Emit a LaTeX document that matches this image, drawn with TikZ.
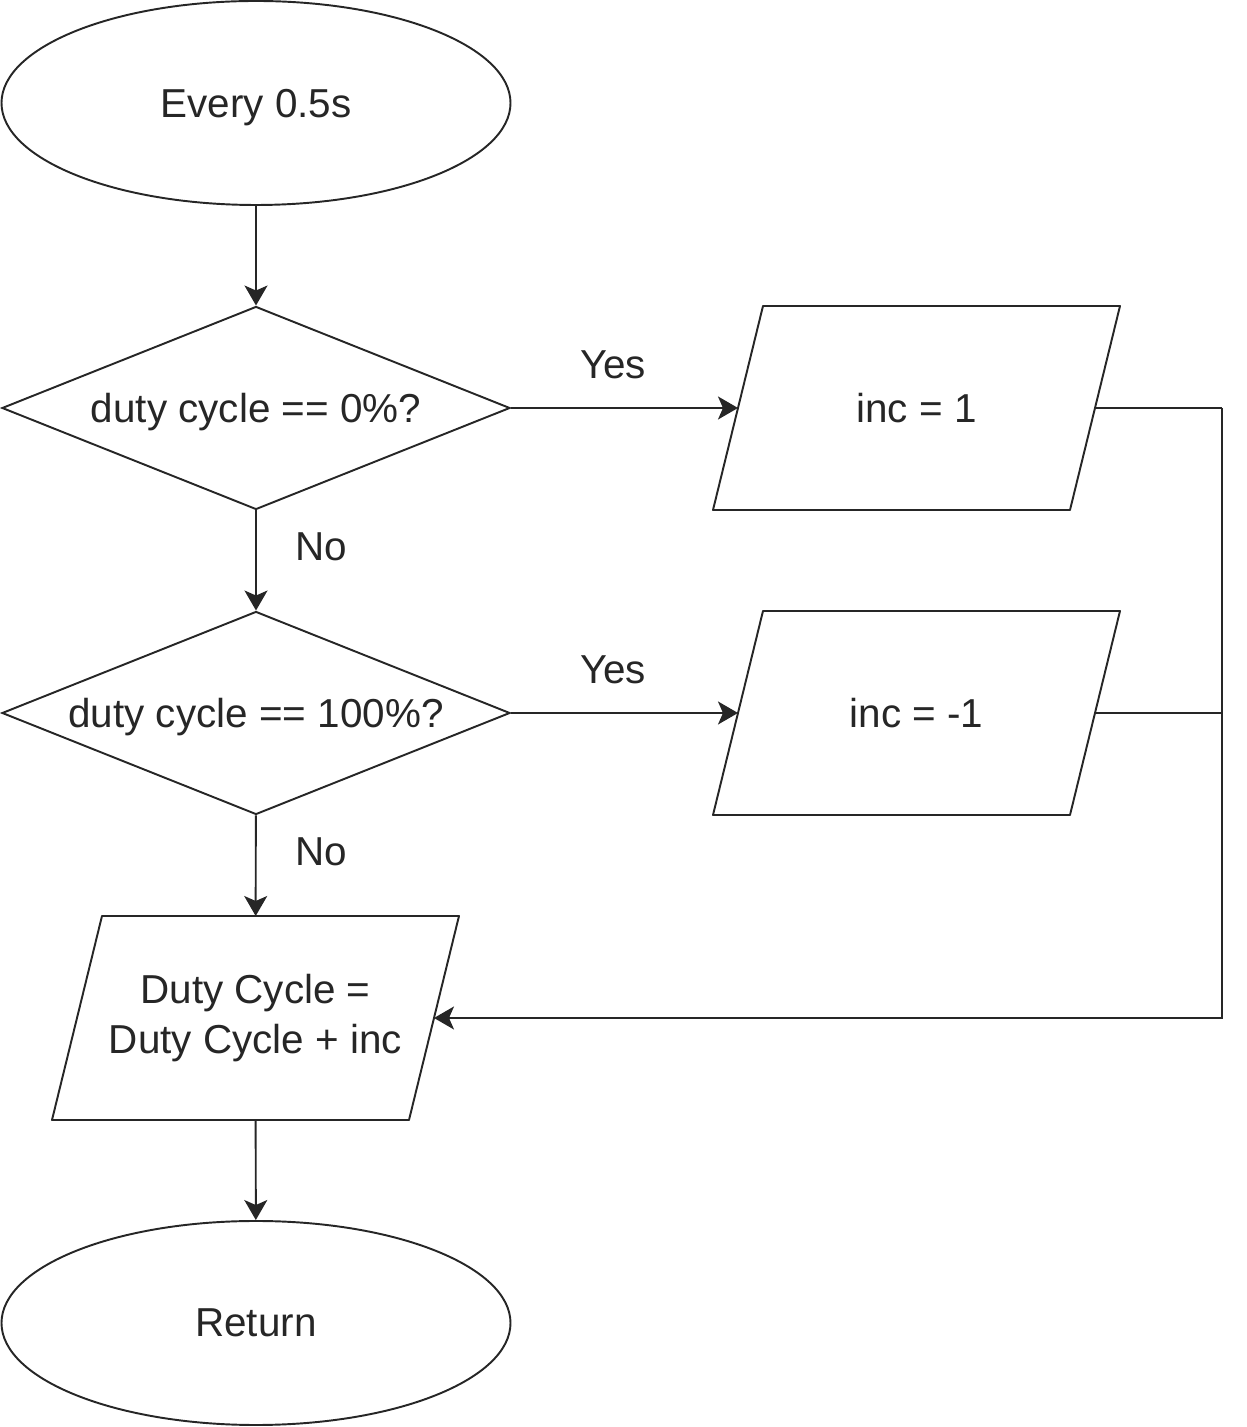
\documentclass[tikz,border=0pt]{standalone}
\usepackage{fontspec}
\setmainfont{Liberation Sans}
\usetikzlibrary{shapes.geometric,positioning,arrows.meta}
\tikzset{
  flowline/.style={line width=1.1pt, draw=black!85},
  flowarrow/.style={flowline, -{Stealth[length=0.4cm, width=0.46cm, inset=0.1cm]}},
  terminal/.style={ellipse, flowline, minimum width=10.18cm, minimum height=4.08cm, inner sep=0pt, text depth=0pt},
  decision/.style={diamond, flowline, minimum width=10.16cm, minimum height=4.06cm, aspect=2.5, inner sep=0pt, text depth=0pt},
  iobox/.style={rectangle, minimum width=7.14cm, minimum height=4.08cm, inner sep=0pt, outer sep=0pt, align=center,
    append after command={\pgfextra{\draw[flowline, line join=round]
      ([xshift=0.5cm]\tikzlastnode.north west) -- ([xshift=0.5cm]\tikzlastnode.north east)
      -- ([xshift=-0.5cm]\tikzlastnode.south east) -- ([xshift=-0.5cm]\tikzlastnode.south west) -- cycle;}}},
  edgelabel/.style={inner sep=2pt}
}

\begin{document}
\begin{tikzpicture}[font=\fontsize{23}{28.5}\selectfont, text=black!85]
\useasboundingbox (0,0) rectangle (24.94,28.54);
\node[terminal] (start) at (5.12,26.48) {Every 0.5s};
\node[decision] (zero) at (5.12,20.38) {duty cycle == 0\%?};
\node[decision] (full) at (5.12,14.28) {duty cycle == 100\%?};
\node[iobox] (update) at (5.11,8.18) {Duty Cycle =\\Duty Cycle + inc};
\node[terminal] (ret) at (5.12,2.08) {Return};
\node[iobox, text depth=0pt] (incup) at (18.33,20.38) {inc = 1};
\node[iobox, text depth=0pt] (incdown) at (18.33,14.28) {inc = -1};
\coordinate (railtop) at (24.44,20.38);
\coordinate (railmid) at (24.44,14.28);
\coordinate (railend) at (24.44,8.18);
\draw[flowarrow] (start) -- (zero);
\draw[flowarrow] (zero.east) -- node[edgelabel, above=0.5cm, pos=0.45] {Yes} (incup.west);
\draw[flowarrow] (zero) -- node[edgelabel, right=0.7cm, pos=0.36] {No} (full);
\draw[flowarrow] (full.east) -- node[edgelabel, above=0.5cm, pos=0.45] {Yes} (incdown.west);
\draw[flowarrow] (full) -- node[edgelabel, right=0.7cm, pos=0.36] {No} (update);
\draw[flowline] (incup.east) -- (railtop);
\draw[flowline] (incdown.east) -- (railmid);
\draw[flowarrow] (railtop) -- (railend) -- (update.east);
\draw[flowarrow] (update) -- (ret);
\end{tikzpicture}
\end{document}
